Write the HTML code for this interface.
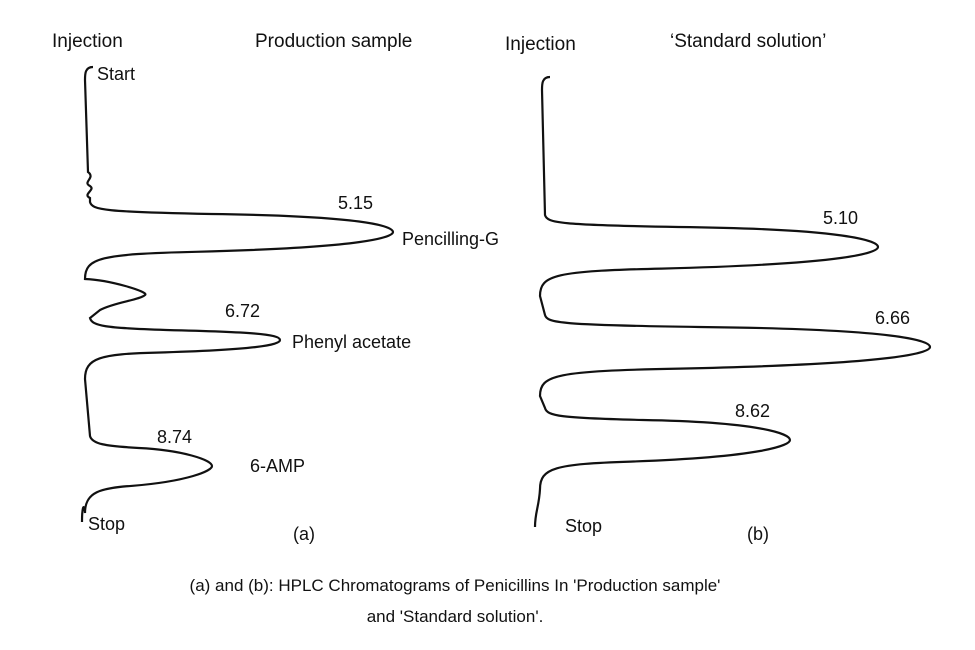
<!DOCTYPE html>
<html><head><meta charset="utf-8"><style>
html,body{margin:0;padding:0;background:#fff}
svg text{font-family:"Liberation Sans",Arial,sans-serif;fill:#111}
</style></head><body>
<svg id="c" width="975" height="645" viewBox="0 0 975 645">
<g id="pa"></g>
<g id="pb"></g>
<text x="52" y="47" font-size="19">Injection</text>
<text x="255" y="47" font-size="19">Production sample</text>
<text x="97" y="80" font-size="18">Start</text>
<text x="505" y="50" font-size="19">Injection</text>
<text x="670" y="47" font-size="19">‘Standard solution’</text>
<text x="402" y="245" font-size="18">Pencilling-G</text>
<text x="292" y="348" font-size="18">Phenyl acetate</text>
<text x="250" y="472" font-size="18">6-AMP</text>
<text x="88" y="530" font-size="18">Stop</text>
<text x="565" y="532" font-size="18">Stop</text>
<text x="293" y="540" font-size="18">(a)</text>
<text x="747" y="540" font-size="18">(b)</text>
<text x="455" y="591" font-size="17" text-anchor="middle">(a) and (b): HPLC Chromatograms of Penicillins In 'Production sample'</text>
<text x="455" y="622" font-size="17" text-anchor="middle">and 'Standard solution'.</text>
</svg>
<script>
const timesA=[5.15,6.72,8.74];
const heightsA=[303,190,122];
const timesB=[5.10,6.66,8.62];
const heightsB=[333,385,245];
const NS="http://www.w3.org/2000/svg";
function interp(t,dom,rng){
  for(let i=0;i<dom.length-1;i++){
    if(t<=dom[i+1]||i===dom.length-2){return rng[i]+(t-dom[i])*(rng[i+1]-rng[i])/(dom[i+1]-dom[i]);}
  }
}
function yA(t){return interp(t,[5.15,6.72,8.74],[232,340,466]);}
function yB(t){return interp(t,[5.10,6.66,8.62],[247,347,440]);}
function peakSeg(bx,yc,h,hw){
  const tip=bx+h;
  return ` L${bx},${yc-hw-8} C${bx+2},${yc-hw} ${bx+15},${yc-hw+2} ${bx+h*0.4},${yc-hw+4}`+
  ` C${tip-30},${yc-hw+6} ${tip},${yc-6} ${tip},${yc}`+
  ` C${tip},${yc+5} ${tip-25},${yc+hw*0.7} ${bx+h*0.35},${yc+hw*0.9}`+
  ` C${bx+10},${yc+hw} ${bx-5},${yc+hw+4} ${bx-5},${yc+hw+25}`;
}
function draw(g,times,heights,yf,bx,start,end,id){
  let d=`M${start[0]+8},${start[1]-3} C${start[0]},${start[1]-3} ${start[0]},${start[1]+4} ${start[0]},${start[1]+10}`;
  if(id==='a'){d+=` L${bx-2},172 C${bx+6},178 ${bx-8},182 ${bx},186 C${bx+6},190 ${bx-8},194 ${bx},198`;}
  times.forEach((t,i)=>{
    const yc=yf(t);
    const hw=(id==='a'&&i===1)?14:(id==='b'?24:22);
    if(id==='a'&&i===1){d+=` C${bx+20},${yc-60} ${bx+60},${yc-48} ${bx+55},${yc-45} C${bx+50},${yc-40} ${bx+25},${yc-38} ${bx+10},${yc-30}`;}
    d+=peakSeg(bx,yc,heights[i],hw);
    const lbl=document.createElementNS(NS,'text');
    
    
    lbl.setAttribute('x',bx+heights[i]-55);lbl.setAttribute('y',yc-23);
    lbl.setAttribute('font-size','18');lbl.textContent=t.toFixed(2);
    g.appendChild(lbl);
  });
  d+=` C${bx-6},${end[1]-20} ${end[0]},${end[1]-15} ${end[0]},${end[1]}`;
  const p=document.createElementNS(NS,'path');
  
  
  p.setAttribute('d',d);p.setAttribute('fill','none');p.setAttribute('stroke','#111');p.setAttribute('stroke-width','2.2');
  g.appendChild(p);
}
draw(document.getElementById('pa'),timesA,heightsA,yA,90,[85,70],[82,522],'a');
draw(document.getElementById('pb'),timesB,heightsB,yB,545,[542,80],[535,527],'b');
</script>
</body></html>
